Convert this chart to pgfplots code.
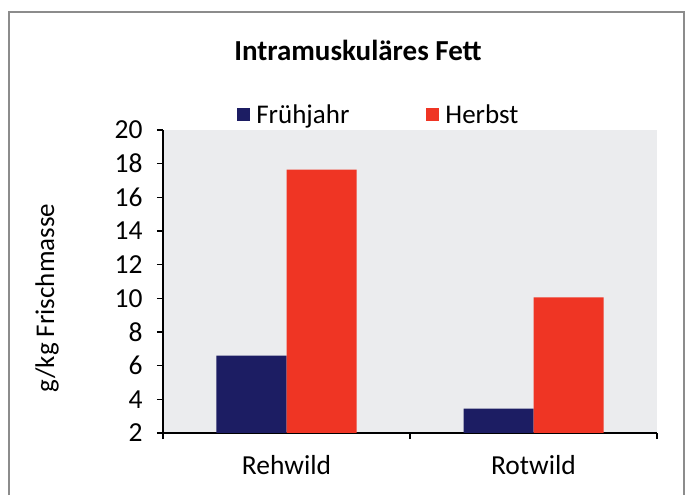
\documentclass[border=0pt]{standalone}
\usepackage{fontspec}
\setmainfont{Carlito}
\usepackage{pgfplots}
\pgfplotsset{compat=1.18}
\definecolor{navyc}{HTML}{1C1D63}
\definecolor{redc}{HTML}{EF3524}
\definecolor{bgc}{HTML}{EBECEE}
\definecolor{framec}{HTML}{8C8C8C}
\begin{document}
\begin{tikzpicture}
\begin{axis}[
  at={(0pt,0pt)}, anchor=south west,
  scale only axis, width=494pt, height=303pt,
  xmin=-0.5, xmax=1.5, ymin=2, ymax=20,
  ytick={2,4,...,20},
  xtick={-0.5,0.5,1.5}, xticklabels={},
  extra x ticks={0,1}, extra x tick labels={Rehwild,Rotwild},
  extra x tick style={major tick length=0pt, xticklabel style={yshift=-19pt}},
  axis x line*=bottom, axis y line*=left,
  axis line style={line width=2pt, black, -},
  tick style={line width=1.6pt, black},
  tick align=outside, major tick length=6pt,
  axis background/.style={fill=bgc},
  ybar=0pt, bar width=70pt,
  ticklabel style={font=\fontsize{27.5}{30}\selectfont},
  yticklabel style={xshift=-11pt},
  /pgf/number format/assume math mode=true,
  legend columns=2,
  legend style={at={(0.15,1.05)}, anchor=west, draw=none, fill=none,
    font=\fontsize{27}{30}\selectfont, inner sep=0pt,
    /tikz/every even column/.append style={column sep=75pt}},
  legend image code/.code={\fill[#1] (0pt,-6.5pt) rectangle (13pt,6.5pt); \path (17pt,0pt);},
]
\addplot[fill=navyc, draw=none] coordinates {(0,6.6) (1,3.45)};
\addplot[fill=redc, draw=none] coordinates {(0,17.65) (1,10.05)};
\legend{Frühjahr,Herbst}
\end{axis}
\begin{scope}[x=1pt,y=1pt,shift={(-163pt,-62pt)}]
\path[use as bounding box] (0,0) rectangle (693,495);
\draw[framec,line width=2pt] (9,0) -- (9,483) -- (684,483) -- (684,0);
\node[font=\fontsize{29}{34}\selectfont\bfseries] at (358,445) {Intramuskuläres Fett};
\node[rotate=90, font=\fontsize{27}{30}\selectfont] at (47,197) {g/kg Frischmasse};
\end{scope}
\end{tikzpicture}
\end{document}
